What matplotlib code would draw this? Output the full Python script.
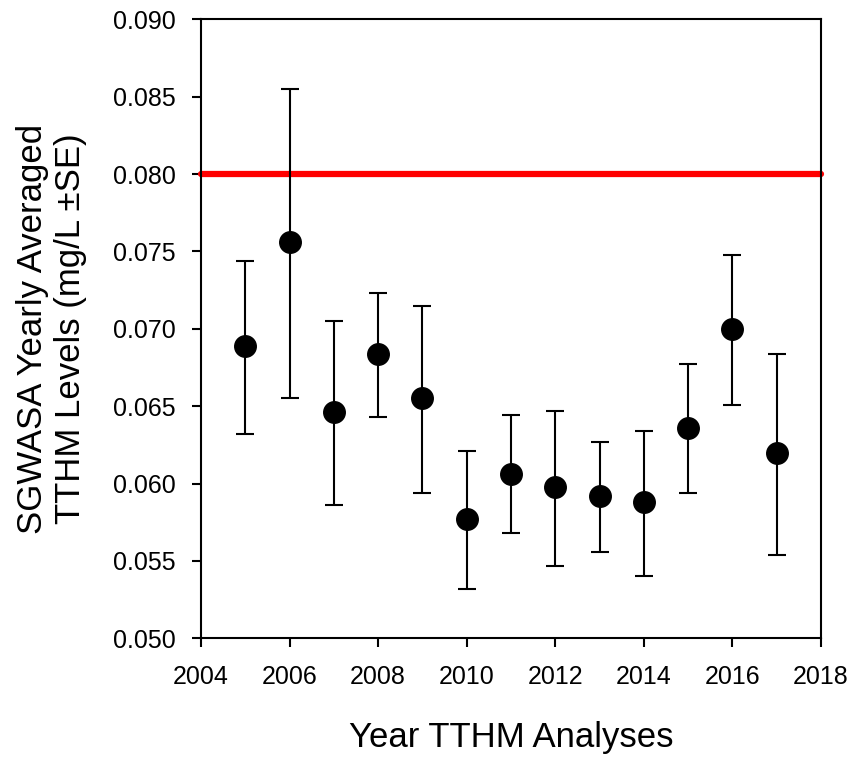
import matplotlib
matplotlib.use("Agg")
import matplotlib.pyplot as plt
import numpy as np

years = [2005, 2006, 2007, 2008, 2009, 2010, 2011, 2012, 2013, 2014, 2015, 2016, 2017]
means = [0.0689, 0.0756, 0.0646, 0.0684, 0.0655, 0.0577, 0.0606, 0.0598, 0.0592, 0.0588, 0.0636, 0.0700, 0.0620]
upper = [0.0744, 0.0855, 0.0705, 0.0723, 0.0715, 0.0621, 0.0644, 0.0647, 0.0627, 0.0634, 0.0677, 0.0748, 0.0684]
lower = [0.0632, 0.0655, 0.0586, 0.0643, 0.0594, 0.0532, 0.0568, 0.0547, 0.0556, 0.0540, 0.0594, 0.0651, 0.0554]
limit = 0.080

plt.rcParams['font.family'] = ['Liberation Sans', 'DejaVu Sans']

fig = plt.figure(figsize=(8.56, 7.57), dpi=100)
ax = fig.add_axes([0.2348, 0.1568, 0.7243, 0.8177])

m = np.array(means)
yerr = [m - np.array(lower), np.array(upper) - m]

ax.plot([2004, 2018], [limit, limit], color='#ff0000', lw=4.5, solid_capstyle='round', zorder=2, clip_on=False)
ax.errorbar(years, means, yerr=yerr, fmt='o', color='black', ecolor='black',
            markersize=15.5, elinewidth=1.5, capsize=6.5, capthick=1.5, zorder=3)

ax.set_xlim(2004, 2018)
ax.set_ylim(0.050, 0.090)
ax.set_xticks(np.arange(2004, 2019, 2))
ax.set_yticks(np.arange(0.050, 0.0901, 0.005))
ax.yaxis.set_major_formatter(matplotlib.ticker.FormatStrFormatter('%.3f'))
ax.tick_params(direction='out', length=6.5, width=1.5, labelsize=18, top=False, right=False)
ax.tick_params(axis='x', pad=12.5)
ax.tick_params(axis='y', pad=11.5)
for s in ax.spines.values():
    s.set_linewidth(1.5)

ax.set_xlabel('Year TTHM Analyses', fontsize=25, labelpad=23)
ax.set_ylabel('SGWASA Yearly Averaged\nTTHM Levels (mg/L \u00b1SE)', fontsize=25, labelpad=19)

fig.savefig('out.png', dpi=100)
